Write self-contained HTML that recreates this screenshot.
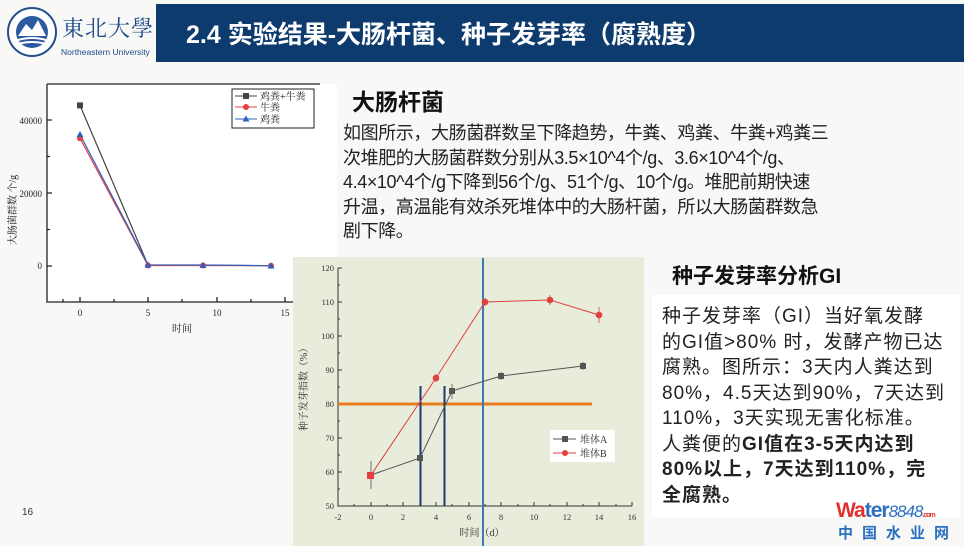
<!DOCTYPE html>
<html><head><meta charset="utf-8"><style>
body{margin:0;width:964px;height:546px;overflow:hidden;background:#f7f7f5;font-family:"Liberation Sans","Noto Sans CJK SC",sans-serif;position:relative}
.a{position:absolute;white-space:nowrap}
</style></head><body>
<div class="a" style="left:0;top:0;width:964px;height:546px;background:#f8f8f6"></div>
<div class="a" style="left:156px;top:4px;width:808px;height:58px;background:#0e3b6d"></div>
<div class="a" style="left:186px;top:15px;font-size:25px;font-weight:bold;color:#fff">2.4 实验结果-大肠杆菌、种子发芽率（腐熟度）</div>
<svg class="a" style="left:6px;top:6px" width="52" height="52"><circle cx="26" cy="26" r="24" fill="#fff" stroke="#234c8a" stroke-width="2"/><circle cx="26" cy="26" r="16" fill="#2b5aa0"/><path d="M12 30 L20 18 L26 24 L32 14 L40 30Z" fill="#fff"/><path d="M12 34 Q26 30 40 34 M12 38 Q26 34 40 38" stroke="#fff" stroke-width="2" fill="none"/></svg>
<div class="a" style="left:62px;top:12px;font-size:22px;color:#1e4a8a;font-family:'Noto Serif CJK SC',serif;letter-spacing:1px">東北大學</div>
<div class="a" style="left:61px;top:47px;font-size:8.5px;color:#1e4a8a">Northeastern University</div>
<div class="a" style="left:22px;top:507px;font-size:10px;color:#333">16</div>

<svg class="a" style="left:0;top:0" width="964" height="546" font-family="Liberation Serif,Noto Serif CJK SC,serif">
<rect x="47" y="84" width="290" height="218" fill="#fff"/>
<g stroke="#222" stroke-width="1.3" fill="none">
<path d="M47 84 V302 H320 M47 84 H320"/>
<path d="M47 120 h5 M47 193 h5 M47 266 h5 M47 156.5 h3 M47 229.5 h3 M80 302 v-5 M148 302 v-5 M217 302 v-5 M285 302 v-5 M63 302 v-3 M114 302 v-3 M182 302 v-3 M251 302 v-3"/>
</g>
<g font-size="9" fill="#222" text-anchor="end"><text x="42" y="124">40000</text><text x="42" y="197">20000</text><text x="42" y="269">0</text></g>
<g font-size="9" fill="#222" text-anchor="middle"><text x="80" y="316">0</text><text x="148" y="316">5</text><text x="217" y="316">10</text><text x="285" y="316">15</text>
<text x="182" y="332" font-size="10">时间</text></g>
<text transform="translate(16,210) rotate(-90)" font-size="10" text-anchor="middle" fill="#222">大肠菌群数 个/g</text>
<polyline points="80,105.4 148,265 203,265.2 271,265.7" stroke="#444" fill="none" stroke-width="1.2"/>
<polyline points="80,138.2 148,265.5 203,265.5 271,265.7" stroke="#e34040" fill="none" stroke-width="1.2"/>
<polyline points="80,134.5 148,264.8 203,265 271,265.7" stroke="#2f62c0" fill="none" stroke-width="1.2"/>
<g fill="#444"><rect x="77" y="102.4" width="6" height="6"/></g>
<g fill="#e34040"><circle cx="80" cy="138.2" r="3"/><circle cx="148" cy="265.5" r="3"/><circle cx="203" cy="265.5" r="3"/><circle cx="271" cy="265.7" r="3"/></g>
<g fill="#2f62c0"><path d="M80 131 l3.5 6 h-7z M148 261.5 l3.5 6 h-7z M203 262 l3.5 6 h-7z M271 262.5 l3.5 6 h-7z"/></g>
<rect x="232" y="89" width="82" height="39" fill="#fff" stroke="#222" stroke-width="1"/>
<line x1="235" y1="96" x2="257" y2="96" stroke="#444"/><rect x="243" y="93" width="6" height="6" fill="#444"/>
<line x1="235" y1="107" x2="257" y2="107" stroke="#e34040"/><circle cx="246" cy="107" r="3" fill="#e34040"/>
<line x1="235" y1="119" x2="257" y2="119" stroke="#2f62c0"/><path d="M246 115.5 l3.5 6 h-7z" fill="#2f62c0"/>
<g font-size="10" fill="#222"><text x="260" y="100">鸡粪+牛粪</text><text x="260" y="111">牛粪</text><text x="260" y="123">鸡粪</text></g>

<rect x="293" y="257" width="351" height="289" fill="#e8ecdb"/>
<g stroke="#333" stroke-width="1" fill="none">
<path d="M338 268 V506 H632"/>
<path d="M338 268h4 M338 302h4 M338 336h4 M338 370h4 M338 404h4 M338 438h4 M338 472h4 M338 285h2 M338 319h2 M338 353h2 M338 387h2 M338 421h2 M338 455h2 M338 489h2"/>
<path d="M338 506v-4 M371 506v-4 M403 506v-4 M436 506v-4 M469 506v-4 M501 506v-4 M534 506v-4 M567 506v-4 M599 506v-4 M632 506v-4 M354 506v-2 M387 506v-2 M420 506v-2 M452 506v-2 M485 506v-2 M518 506v-2 M550 506v-2 M583 506v-2 M616 506v-2"/>
</g>
<g font-size="8.5" fill="#333" text-anchor="end"><text x="334" y="271">120</text><text x="334" y="305">110</text><text x="334" y="339">100</text><text x="334" y="373">90</text><text x="334" y="407">80</text><text x="334" y="441">70</text><text x="334" y="475">60</text><text x="334" y="509">50</text></g>
<g font-size="8.5" fill="#333" text-anchor="middle"><text x="338" y="520">-2</text><text x="371" y="520">0</text><text x="403" y="520">2</text><text x="436" y="520">4</text><text x="469" y="520">6</text><text x="501" y="520">8</text><text x="534" y="520">10</text><text x="567" y="520">12</text><text x="599" y="520">14</text><text x="632" y="520">16</text>
<text x="482" y="536" font-size="10">时间（d）</text></g>
<text transform="translate(307,387) rotate(-90)" font-size="10" text-anchor="middle" fill="#333">种子发芽指数（%）</text>
<line x1="338" y1="404" x2="592" y2="404" stroke="#e87d1e" stroke-width="3"/>
<line x1="420.5" y1="386" x2="420.5" y2="506" stroke="#1b3a6b" stroke-width="2"/>
<line x1="444.5" y1="386" x2="444.5" y2="506" stroke="#1b3a6b" stroke-width="2"/>
<line x1="483" y1="258" x2="483" y2="546" stroke="#3b7ab8" stroke-width="2"/>
<polyline points="371,475 420,458 452,391 501,376 583,366" stroke="#555" fill="none" stroke-width="1"/>
<polyline points="371,475 436,378 485,302 550,300 599,315" stroke="#e34040" fill="none" stroke-width="1"/>
<g stroke="#555" stroke-width="0.8"><path d="M371 461v28 M452 384v15 M501 372v8 M583 362v8 M420 455v6"/></g>
<g stroke="#e34040" stroke-width="0.8"><path d="M436 374v8 M485 298v8 M550 295v10 M599 307v16"/></g>
<g fill="#555"><rect x="417" y="455" width="6" height="6"/><rect x="449" y="388" width="6" height="6"/><rect x="498" y="373" width="6" height="6"/><rect x="580" y="363" width="6" height="6"/></g>
<g fill="#e34040"><circle cx="436" cy="378" r="3.3"/><circle cx="485" cy="302" r="3.3"/><circle cx="550" cy="300" r="3.3"/><circle cx="599" cy="315" r="3.3"/></g>
<rect x="367" y="472" width="7" height="7" fill="#e34040"/>
<rect x="550" y="430" width="65" height="32" fill="#fff"/>
<line x1="553" y1="439" x2="576" y2="439" stroke="#555"/><rect x="562" y="436" width="6" height="6" fill="#555"/>
<line x1="553" y1="453" x2="576" y2="453" stroke="#e34040"/><circle cx="565" cy="453" r="3" fill="#e34040"/>
<g font-size="10" fill="#333"><text x="580" y="443">堆体A</text><text x="580" y="457">堆体B</text></g>
</svg>

<div class="a" style="left:352px;top:83px;font-size:23px;font-weight:bold;color:#111">大肠杆菌</div>
<div class="a" style="left:343px;top:121px;font-size:18px;line-height:24.6px;color:#222;letter-spacing:-0.4px">如图所示，大肠菌群数呈下降趋势，牛粪、鸡粪、牛粪+鸡粪三<br>次堆肥的大肠菌群数分别从3.5×10^4个/g、3.6×10^4个/g、<br>4.4×10^4个/g下降到56个/g、51个/g、10个/g。堆肥前期快速<br>升温，高温能有效杀死堆体中的大肠杆菌，所以大肠菌群数急<br>剧下降。</div>

<div class="a" style="left:672px;top:260px;font-size:21px;font-weight:bold;color:#111">种子发芽率分析GI</div>
<div class="a" style="left:652px;top:295px;width:308px;height:222px;background:#fff"></div>
<div class="a" style="left:662px;top:304px;font-size:19px;line-height:25.5px;color:#222;letter-spacing:1px">种子发芽率（GI）当好氧发酵<br>的GI值&gt;80% 时，发酵产物已达<br>腐熟。图所示：3天内人粪达到<br>80%，4.5天达到90%，7天达到<br>110%，3天实现无害化标准。<br>人粪便的<b>GI值在3-5天内达到</b><br><b>80%以上，7天达到110%，完</b><br><b>全腐熟。</b></div>

<div class="a" style="left:836px;top:499px;font-size:21px;font-weight:bold;color:#e03030;letter-spacing:-1px">Wa<span style="color:#2a6fc0">ter</span><span style="font-style:italic;font-weight:normal;color:#2a6fc0;font-size:17px">8848</span><span style="font-size:7px;color:#e03030">.com</span></div>
<div class="a" style="left:838px;top:522px;font-size:15px;font-weight:bold;color:#2a6fc0;letter-spacing:9px">中国水业网</div>
</body></html>
